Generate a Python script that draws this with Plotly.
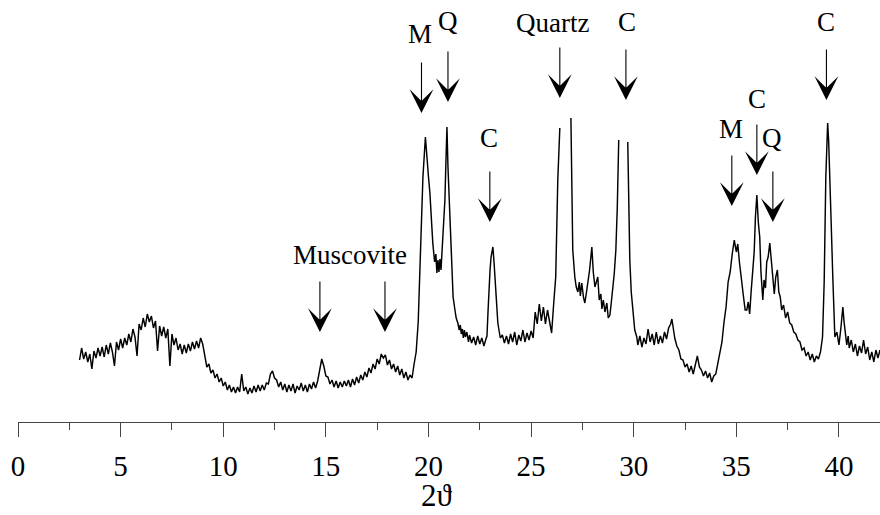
import plotly.graph_objects as go

# ---- XRD scan (2-theta in degrees, intensity in arbitrary counts) ----
seg1_2theta = [3.0, 3.1, 3.2, 3.3, 3.4, 3.5, 3.6, 3.7, 3.8, 3.9,
               4.0, 4.1, 4.2, 4.3, 4.4, 4.5, 4.6, 4.7, 4.8, 4.9,
               5.0, 5.1, 5.2, 5.3, 5.4, 5.5, 5.6, 5.7, 5.8, 5.9,
               6.0, 6.1, 6.2, 6.3, 6.4, 6.5, 6.6, 6.7, 6.8, 6.9,
               7.0, 7.1, 7.2, 7.3, 7.4, 7.5, 7.6, 7.7, 7.8, 7.9,
               8.0, 8.1, 8.2, 8.3, 8.4, 8.5, 8.6, 8.7, 8.8, 8.9,
               9.0]
seg1_counts = [62, 74, 63, 70, 60, 68, 53, 71, 64, 74,
               66, 75, 65, 77, 68, 79, 70, 56, 80, 72,
               83, 74, 84, 77, 88, 80, 93, 85, 66, 98,
               92, 104, 95, 108, 100, 106, 94, 101, 71, 96,
               86, 95, 84, 93, 56, 88, 77, 84, 72, 78,
               68, 77, 69, 78, 71, 80, 73, 81, 74, 84,
               78]

seg2_2theta = [9.1, 9.2, 9.3, 9.4, 9.5, 9.6, 9.7, 9.8, 9.9,
               10.0, 10.1, 10.2, 10.3, 10.4, 10.5, 10.6, 10.7, 10.8, 10.9,
               11.0, 11.1, 11.2, 11.3, 11.4, 11.5, 11.6, 11.7, 11.8, 11.9,
               12.0, 12.1, 12.2, 12.3, 12.4, 12.5, 12.6, 12.7, 12.8, 12.9,
               13.0, 13.1, 13.2, 13.3, 13.4, 13.5, 13.6, 13.7, 13.8, 13.9,
               14.0, 14.1, 14.2, 14.3, 14.4, 14.5, 14.6, 14.7, 14.8, 14.9,
               15.0, 15.1, 15.2, 15.3, 15.4, 15.5, 15.6, 15.7, 15.8, 15.9,
               16.0, 16.1, 16.2, 16.3, 16.4, 16.5, 16.6, 16.7, 16.8, 16.9,
               17.0, 17.1, 17.2, 17.3, 17.4, 17.5, 17.6, 17.7, 17.8, 17.9,
               18.0, 18.1, 18.2, 18.3, 18.4, 18.5, 18.6, 18.7, 18.8, 18.9,
               19.0, 19.1, 19.2, 19.3]
seg2_counts = [64, 55, 58, 49, 52, 44, 48, 40, 44,
               36, 40, 32, 37, 30, 35, 29, 35, 30, 48,
               31, 35, 28, 34, 29, 36, 30, 37, 31, 37,
               32, 39, 38, 48, 51, 44, 42, 35, 40, 32,
               38, 30, 37, 31, 38, 29, 36, 32, 39, 31,
               37, 30, 38, 33, 40, 34, 41, 52, 63, 56,
               46, 45, 38, 42, 35, 41, 34, 40, 35, 41,
               36, 42, 35, 43, 37, 45, 39, 47, 42, 50,
               45, 54, 49, 58, 53, 63, 58, 68, 64, 67,
               57, 62, 53, 58, 50, 56, 47, 53, 44, 50,
               42, 47, 44, 58]

seg3_2theta = [19.4, 19.5, 19.58, 19.65, 19.73, 19.8, 19.85, 19.9, 19.95, 20.0,
               20.07, 20.15, 20.21, 20.3, 20.36, 20.41, 20.46, 20.51, 20.56, 20.61,
               20.66, 20.7, 20.75, 20.8, 20.85, 20.9, 20.95, 21.0, 21.04, 21.1,
               21.14, 21.2, 21.29, 21.35, 21.43, 21.5, 21.55, 21.6, 21.65, 21.7,
               21.75, 21.8, 21.87, 21.95, 22.0, 22.1, 22.2, 22.3, 22.4, 22.5,
               22.6, 22.7, 22.8, 22.85, 22.9, 22.95, 23.0, 23.05, 23.1, 23.14,
               23.2, 23.25, 23.3, 23.38, 23.45, 23.5]
seg3_counts = [70, 100, 142, 195, 245, 270, 285, 272, 262, 245,
               229, 200, 179, 160, 168, 149, 162, 150, 163, 152,
               170, 185, 200, 222, 260, 295, 255, 228, 212, 170,
               145, 125, 112, 104, 99, 92, 97, 88, 93, 84,
               92, 85, 90, 80, 87, 79, 85, 77, 86, 78,
               84, 76, 83, 86, 110, 135, 152, 165, 172, 175,
               158, 140, 118, 99, 90, 84]

seg4_2theta = [23.6, 23.7, 23.8, 23.9,
               24.0, 24.1, 24.2, 24.3, 24.4, 24.5, 24.6, 24.7, 24.8, 24.9,
               25.0, 25.1, 25.2, 25.3, 25.4, 25.5, 25.6, 25.7, 25.8, 25.9,
               26.0, 26.1, 26.2, 26.3, 26.4]
seg4_counts = [87, 79, 86, 78,
               88, 80, 90, 77, 87, 81, 92, 80, 89, 82,
               91, 84, 110, 98, 118, 101, 115, 98, 112, 100,
               89, 118, 145, 242, 294]

# quartz reflection runs off scale: the scan resumes on its far flank
seg5_2theta = [26.94, 27.03, 27.13, 27.2, 27.28, 27.35, 27.4, 27.47, 27.55, 27.62,
               27.7, 27.76, 27.85, 27.96, 28.03, 28.11, 28.18, 28.25, 28.32, 28.4,
               28.45, 28.52, 28.6, 28.69, 28.76, 28.84, 28.9, 28.98, 29.05, 29.13,
               29.2, 29.27]
seg5_counts = [304, 172, 145, 135, 130, 140, 126, 139, 125, 119,
               130, 139, 152, 175, 150, 135, 140, 145, 122, 128,
               113, 122, 110, 119, 104, 107, 118, 132, 148, 172,
               215, 282]

# calcite 29.4 reflection runs off scale as well
seg6_2theta = [29.71, 29.81, 29.88, 29.96, 30.05, 30.15, 30.2, 30.3, 30.4, 30.5,
               30.6, 30.7, 30.8, 30.9, 31.0, 31.1, 31.2, 31.3, 31.4, 31.5,
               31.6, 31.7, 31.8, 31.86, 31.95, 32.0, 32.1, 32.2, 32.3, 32.4,
               32.5, 32.6, 32.7, 32.8, 32.9, 33.0, 33.1, 33.2, 33.3, 33.4,
               33.5, 33.6, 33.7, 33.8, 33.9, 34.0, 34.1, 34.2, 34.3, 34.4,
               34.5, 34.6, 34.7, 34.8, 34.9, 35.0, 35.07, 35.15, 35.27, 35.35,
               35.43, 35.51, 35.58, 35.65, 35.72, 35.8, 35.87, 35.93, 36.0, 36.07,
               36.14, 36.2, 36.29, 36.35, 36.42, 36.48, 36.55, 36.63, 36.7, 36.78,
               36.85, 36.92, 37.0, 37.07, 37.14, 37.21, 37.3, 37.4, 37.5, 37.6,
               37.7, 37.8, 37.9, 38.0, 38.1, 38.2, 38.3, 38.4, 38.5, 38.6,
               38.7, 38.8, 38.9, 39.0, 39.1, 39.2, 39.28, 39.36, 39.45, 39.5,
               39.55, 39.62, 39.7, 39.8, 39.9, 40.0, 40.1, 40.19, 40.25, 40.3,
               40.38, 40.45, 40.5, 40.6, 40.7, 40.8, 40.9, 41.0, 41.1, 41.2,
               41.3, 41.4, 41.5, 41.6, 41.7, 41.8, 41.9, 42.0]
seg6_counts = [280, 162, 130, 109, 92, 85, 77, 86, 75, 84,
               78, 93, 80, 88, 77, 90, 78, 86, 79, 90,
               83, 94, 98, 103, 90, 84, 76, 72, 63, 62,
               55, 58, 50, 56, 48, 58, 66, 55, 52, 46,
               51, 44, 49, 40, 46, 48, 60, 70, 80, 100,
               115, 140, 150, 168, 182, 170, 178, 160, 135, 125,
               112, 112, 120, 108, 130, 149, 170, 205, 227, 200,
               185, 150, 122, 142, 134, 160, 165, 179, 160, 142,
               128, 145, 152, 130, 125, 112, 117, 104, 110, 99,
               97, 90, 88, 82, 80, 72, 74, 66, 70, 62,
               68, 60, 66, 63, 70, 85, 140, 245, 299, 280,
               252, 200, 145, 85, 90, 77, 95, 115, 100, 90,
               77, 86, 74, 82, 70, 78, 66, 76, 69, 82,
               68, 75, 62, 70, 60, 72, 64, 72]

# ---- phase markers ----
arrow_2theta = [14.71, 17.88, 19.66, 20.95, 26.40, 22.99, 29.62, 34.78, 36.00, 36.78, 39.39]
arrow_tip = [90, 90, 309, 320, 324, 200, 322, 216, 247, 200, 322]
label_text = ["Muscovite", "M", "Q", "Quartz", "C", "C", "M", "C", "Q", "C"]
label_2theta = [16.17, 19.58, 20.95, 26.06, 22.94, 29.66, 34.73, 36.00, 36.73, 39.39]
label_level = [167, 388, 401, 399, 284, 400, 293, 323, 284, 400]

x_ticks = [0, 5, 10, 15, 20, 25, 30, 35, 40]
x_minor = [2.5, 7.5, 12.5, 17.5, 22.5, 27.5, 32.5, 37.5]

two_theta = seg1_2theta + seg2_2theta + seg3_2theta + seg4_2theta + [None] + seg5_2theta + [None] + seg6_2theta
counts = seg1_counts + seg2_counts + seg3_counts + seg4_counts + [None] + seg5_counts + [None] + seg6_counts

SERIF = "Liberation Serif, Times New Roman, serif"
AXIS_GREY = "#444444"
ARROW_LEN = 52

fig = go.Figure()
fig.add_trace(go.Scatter(
    x=two_theta, y=counts, mode="lines",
    line=dict(color="black", width=1.45),
    connectgaps=False, hoverinfo="skip",
))

annotations = []
for xv, tip in zip(arrow_2theta, arrow_tip):
    annotations.append(dict(
        x=xv, y=tip, xref="x", yref="y",
        ax=xv, ay=tip + ARROW_LEN, axref="x", ayref="y",
        text="", showarrow=True, arrowhead=3, arrowsize=3.6,
        arrowwidth=1.1, arrowcolor="black",
    ))
for txt, xv, yv in zip(label_text, label_2theta, label_level):
    annotations.append(dict(
        x=xv, y=yv, xref="x", yref="y", text=txt, showarrow=False,
        xanchor="center", yanchor="middle",
        font=dict(family=SERIF, size=27, color="black"),
    ))
annotations.append(dict(
    x=20.4, y=-0.175, xref="x", yref="paper", text="2ϑ", showarrow=False,
    xanchor="center", yanchor="middle",
    font=dict(family=SERIF, size=31, color="black"),
))

fig.update_layout(
    width=880, height=515,
    margin=dict(l=18, r=0, t=0, b=93),
    plot_bgcolor="white", paper_bgcolor="white",
    showlegend=False,
    font=dict(family=SERIF, color="black"),
    annotations=annotations,
)
fig.update_xaxes(
    range=[0, 42], tickmode="array", tickvals=x_ticks,
    ticktext=[str(v) for v in x_ticks],
    ticks="outside", ticklen=14, tickwidth=1, tickcolor=AXIS_GREY,
    showline=True, linecolor=AXIS_GREY, linewidth=1,
    showgrid=False, zeroline=False, automargin=False,
    tickfont=dict(family=SERIF, size=29, color="black"),
    ticklabelstandoff=4,
    minor=dict(tickmode="array", tickvals=x_minor, ticks="outside",
               ticklen=7, tickwidth=1, tickcolor=AXIS_GREY, showgrid=False),
)
fig.update_yaxes(range=[0, 422], visible=False)

fig.write_html("out.html")
